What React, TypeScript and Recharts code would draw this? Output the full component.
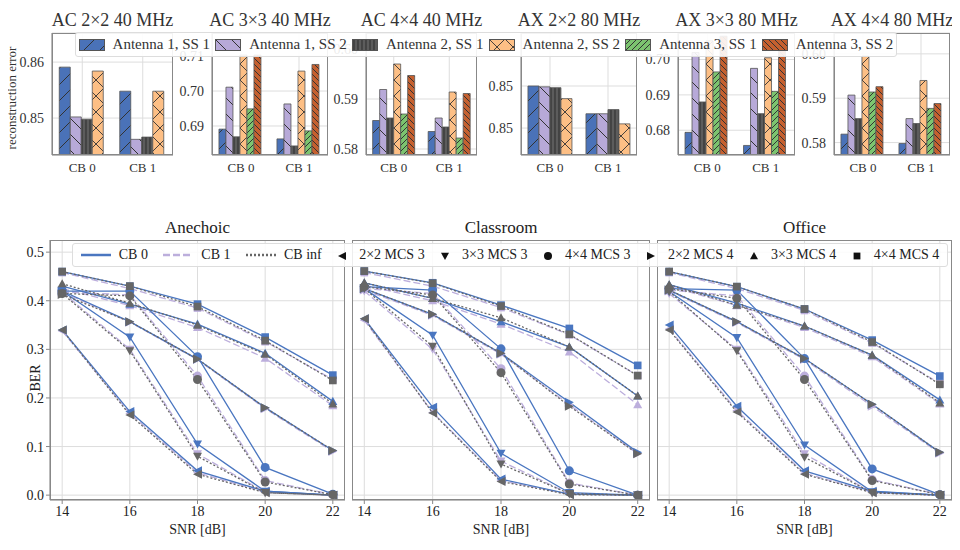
import React from 'react';
import { BarChart, Bar, XAxis, YAxis, CartesianGrid, LineChart, Line } from 'recharts';

const FONT = '"Liberation Serif", "DejaVu Serif", serif';
const CBS = ['CB 0', 'CB 1'];
const SERIES = ['Antenna 1, SS 1', 'Antenna 1, SS 2', 'Antenna 2, SS 1', 'Antenna 2, SS 2', 'Antenna 3, SS 1', 'Antenna 3, SS 2'];
const BAR_COLORS = ['#4a72b8', '#b7a9d8', '#5c5c5c', '#fdbf85', '#7cc46f', '#c5602f'];

// per series: [CB 0, CB 1]
const AC22 = [[0.8591, 0.8548], [0.8502, 0.8462], [0.8498, 0.8466], [0.8584, 0.8548]];
const AC33 = [[0.6891, 0.6863], [0.7011, 0.6963], [0.6869, 0.6843], [0.7103, 0.7057], [0.6949, 0.6886], [0.7103, 0.7076]];
const AC44 = [[0.5857, 0.5835], [0.5919, 0.5862], [0.5862, 0.5844], [0.597, 0.5914], [0.587, 0.5822], [0.5947, 0.5911]];
const AX22 = [[0.85, 0.8467], [0.8499, 0.8467], [0.8498, 0.8472], [0.8485, 0.8455]];
const AX33 = [[0.6794, 0.6757], [0.702, 0.6975], [0.688, 0.6847], [0.7053, 0.7005], [0.6965, 0.691], [0.7066, 0.7045]];
const AX44 = [[0.5819, 0.5798], [0.5907, 0.5854], [0.5854, 0.5843], [0.5995, 0.594], [0.5914, 0.5877], [0.5926, 0.5888]];

const PANELS = [
  { title: 'AC 2×2 40 MHz', vals: AC22, domain: [0.8434, 0.8652], ticks: [0.85, 0.86], left: 52, right: 173 },
  { title: 'AC 3×3 40 MHz', vals: AC33, domain: [0.6817, 0.7166], ticks: [0.69, 0.7, 0.71], left: 212, right: 328 },
  { title: 'AC 4×4 40 MHz', vals: AC44, domain: [0.5788, 0.6032], ticks: [0.58, 0.59, 0.6], left: 366, right: 477 },
  { title: 'AX 2×2 80 MHz', vals: AX22, domain: [0.8418, 0.8563], ticks: [0.845, 0.85, 0.855], left: 521, right: 637 },
  { title: 'AX 3×3 80 MHz', vals: AX33, domain: [0.673, 0.7075], ticks: [0.68, 0.69, 0.7], left: 678, right: 795 },
  { title: 'AX 4×4 80 MHz', vals: AX44, domain: [0.5772, 0.6047], ticks: [0.58, 0.59, 0.6], left: 834, right: 950 },
];

const SNR = [14, 16, 18, 20, 22];
// per configuration: [CB 0, CB 1, CB inf]
const ANE = {
  m22_3: [[0.34, 0.172, 0.05, 0.008, 0.0], [0.338, 0.168, 0.046, 0.006, 0.0], [0.34, 0.165, 0.043, 0.005, 0.0]],
  m33_3: [[0.42, 0.325, 0.105, 0.008, 0.0], [0.418, 0.3, 0.085, 0.006, 0.0], [0.415, 0.297, 0.08, 0.005, 0.0]],
  m44_3: [[0.42, 0.42, 0.285, 0.057, 0.002], [0.418, 0.412, 0.245, 0.03, 0.001], [0.415, 0.41, 0.238, 0.027, 0.001]],
  m22_4: [[0.42, 0.357, 0.28, 0.18, 0.092], [0.418, 0.356, 0.279, 0.178, 0.09], [0.413, 0.357, 0.28, 0.18, 0.092]],
  m33_4: [[0.43, 0.393, 0.352, 0.292, 0.193], [0.425, 0.39, 0.345, 0.282, 0.184], [0.435, 0.395, 0.35, 0.29, 0.188]],
  m44_4: [[0.46, 0.43, 0.393, 0.325, 0.247], [0.458, 0.425, 0.385, 0.316, 0.238], [0.46, 0.43, 0.388, 0.318, 0.236]],
};
const CLS = {
  m22_3: [[0.363, 0.181, 0.033, 0.002, 0.0], [0.36, 0.17, 0.03, 0.002, 0.0], [0.363, 0.169, 0.028, 0.001, 0.0]],
  m33_3: [[0.425, 0.329, 0.086, 0.005, 0.0], [0.42, 0.3, 0.07, 0.003, 0.0], [0.425, 0.306, 0.064, 0.003, 0.0]],
  m44_3: [[0.429, 0.422, 0.301, 0.05, 0.0], [0.425, 0.415, 0.26, 0.025, 0.0], [0.429, 0.412, 0.252, 0.023, 0.0]],
  m22_4: [[0.425, 0.372, 0.292, 0.191, 0.088], [0.422, 0.37, 0.29, 0.186, 0.085], [0.425, 0.372, 0.292, 0.183, 0.085]],
  m33_4: [[0.437, 0.405, 0.357, 0.305, 0.204], [0.432, 0.4, 0.352, 0.295, 0.186], [0.437, 0.405, 0.365, 0.305, 0.204]],
  m44_4: [[0.461, 0.437, 0.391, 0.343, 0.267], [0.458, 0.43, 0.386, 0.33, 0.246], [0.461, 0.436, 0.389, 0.331, 0.246]],
};
const OFF = {
  m22_3: [[0.35, 0.183, 0.05, 0.008, 0.0], [0.342, 0.174, 0.045, 0.006, 0.0], [0.34, 0.171, 0.043, 0.005, 0.0]],
  m33_3: [[0.419, 0.324, 0.103, 0.007, 0.0], [0.415, 0.3, 0.085, 0.005, 0.0], [0.419, 0.297, 0.078, 0.005, 0.0]],
  m44_3: [[0.425, 0.422, 0.281, 0.054, 0.001], [0.422, 0.41, 0.245, 0.032, 0.001], [0.425, 0.405, 0.238, 0.03, 0.001]],
  m22_4: [[0.422, 0.357, 0.281, 0.187, 0.088], [0.42, 0.355, 0.279, 0.183, 0.086], [0.422, 0.357, 0.281, 0.187, 0.088]],
  m33_4: [[0.433, 0.395, 0.348, 0.288, 0.196], [0.43, 0.39, 0.345, 0.285, 0.188], [0.433, 0.391, 0.348, 0.288, 0.19]],
  m44_4: [[0.46, 0.429, 0.383, 0.319, 0.245], [0.458, 0.425, 0.38, 0.313, 0.23], [0.46, 0.429, 0.383, 0.315, 0.228]],
};
const ENVS = [
  { title: 'Anechoic', vals: ANE, left: 50, right: 345, axis: true },
  { title: 'Classroom', vals: CLS, left: 352, right: 650, axis: false },
  { title: 'Office', vals: OFF, left: 657, right: 952, axis: false },
];
const CONFIGS = [
  { key: 'm22_3', label: '2×2 MCS 3', shape: 'left' },
  { key: 'm33_3', label: '3×3 MCS 3', shape: 'down' },
  { key: 'm44_3', label: '4×4 MCS 3', shape: 'circle' },
  { key: 'm22_4', label: '2×2 MCS 4', shape: 'right' },
  { key: 'm33_4', label: '3×3 MCS 4', shape: 'up' },
  { key: 'm44_4', label: '4×4 MCS 4', shape: 'square' },
];
const CB_STYLES = [
  { name: 'CB 0', color: '#4a76c0', dash: undefined },
  { name: 'CB 1', color: '#bcaedc', dash: '7 3' },
  { name: 'CB inf', color: '#666666', dash: '2 2' },
];
const DRAW_ORDER = [1, 0, 2];

function markerPath(shape: string, x: number, y: number, r: number) {
  switch (shape) {
    case 'left': return `M${x - r},${y} L${x + r},${y - r} L${x + r},${y + r} Z`;
    case 'right': return `M${x + r},${y} L${x - r},${y - r} L${x - r},${y + r} Z`;
    case 'up': return `M${x},${y - r} L${x + r},${y + r * 0.8} L${x - r},${y + r * 0.8} Z`;
    case 'down': return `M${x},${y + r} L${x + r},${y - r * 0.8} L${x - r},${y - r * 0.8} Z`;
    case 'square': return `M${x - r * 0.85},${y - r * 0.85} h${r * 1.7} v${r * 1.7} h${-r * 1.7} Z`;
    default: return `M${x - r},${y} a${r},${r} 0 1,0 ${2 * r},0 a${r},${r} 0 1,0 ${-2 * r},0`;
  }
}

function Marker({ shape, color, size = 5 }: { shape: string; color: string; size?: number }) {
  return (
    <svg width={size * 2 + 2} height={size * 2 + 2} style={{ verticalAlign: 'middle' }}>
      <path d={markerPath(shape, size + 1, size + 1, size)} fill={color} />
    </svg>
  );
}

const PATTERNS = [
  { d: 'M0,16 L16,0', w: 16, sw: 1 },
  { d: 'M0,0 L16,16', w: 16, sw: 1 },
  { d: 'M2,0 V8 M6,0 V8', w: 8, sw: 1.2 },
  { d: 'M0,0 L16,16 M0,16 L16,0', w: 16, sw: 0.9 },
  { d: 'M0,6 L6,0 M-1,1 L1,-1 M5,7 L7,5', w: 6, sw: 1 },
  { d: 'M0,0 L6,6 M-1,5 L1,7 M5,-1 L7,1', w: 6, sw: 1 },
];

function PatternDefs() {
  return (
    <svg width={0} height={0} style={{ position: 'absolute' }}>
      <defs>
        {PATTERNS.map((p, i) => (
          <pattern key={i} id={`hatch${i}`} patternUnits="userSpaceOnUse" width={p.w} height={p.w}>
            <rect width={p.w} height={p.w} fill={BAR_COLORS[i]} />
            <path d={p.d} stroke="#333" strokeWidth={p.sw} />
          </pattern>
        ))}
      </defs>
    </svg>
  );
}

const fmt2 = (v: number) => (Math.round(v * 100) / 100).toFixed(2);

function BarPanel({ panel, first }: { panel: (typeof PANELS)[number]; first: boolean }) {
  const data = CBS.map((cb, ci) => {
    const row: Record<string, number | string> = { cb };
    panel.vals.forEach((s, si) => { row[`s${si}`] = s[ci]; });
    return row;
  });
  const axisW = 44;
  const plotW = panel.right - panel.left;
  return (
    <div style={{ position: 'absolute', left: panel.left - 8 - axisW, top: 0 }}>
      <div style={{ position: 'absolute', left: axisW - 20, width: plotW + 40, top: 2, textAlign: 'center', fontSize: 18, color: '#333', whiteSpace: 'nowrap' }}>
        {panel.title}
      </div>
      <BarChart width={axisW + plotW} height={172} data={data} margin={{ top: 25, right: 0, bottom: 0, left: 0 }} barCategoryGap="12%" barGap={0}>
        <CartesianGrid stroke="#ddd" />
        <XAxis dataKey="cb" height={25} tick={{ fontSize: 13, fill: '#333', fontFamily: FONT }} tickLine={false} stroke="#888" />
        <YAxis width={axisW} domain={panel.domain} ticks={panel.ticks} allowDataOverflow tickFormatter={fmt2} tick={{ fontSize: 14, fill: '#333', fontFamily: FONT }} tickLine={false} stroke="#888" />
        {panel.vals.map((_, si) => (
          <Bar key={si} dataKey={`s${si}`} fill={`url(#hatch${si})`} stroke="#555" strokeWidth={0.8} isAnimationActive={false} />
        ))}
      </BarChart>
      <div style={{ position: 'absolute', left: axisW, top: 25, width: plotW, height: 122, border: '1px solid #888', boxSizing: 'border-box', pointerEvents: 'none' }} />
      {first && (
        <div style={{ position: 'absolute', left: -4, top: 90, transform: 'rotate(-90deg)', transformOrigin: 'left top', fontSize: 13, color: '#333', whiteSpace: 'nowrap' }}>
          <div style={{ transform: 'translateX(-50%)' }}>reconstruction error</div>
        </div>
      )}
    </div>
  );
}

function LinePanel({ env }: { env: (typeof ENVS)[number] }) {
  const data = SNR.map((snr, i) => {
    const row: Record<string, number> = { snr };
    CONFIGS.forEach((c) => {
      (env.vals as Record<string, number[][]>)[c.key].forEach((arr, k) => { row[`${c.key}_${k}`] = arr[i]; });
    });
    return row;
  });
  const axisW = env.axis ? 40 : 0;
  const plotW = env.right - env.left;
  return (
    <div style={{ position: 'absolute', left: env.left - 8 - axisW, top: 232 }}>
      <div style={{ position: 'absolute', left: axisW, width: plotW, top: -22, textAlign: 'center', fontSize: 17, color: '#222' }}>{env.title}</div>
      <LineChart width={axisW + plotW} height={282} data={data} margin={{ top: 0, right: 0, bottom: 0, left: 0 }}>
        <CartesianGrid stroke="#ddd" />
        <XAxis dataKey="snr" type="number" domain={[13.64, 22.36]} ticks={SNR} height={22} stroke="#888" tick={{ fontSize: 14, fill: '#222', fontFamily: FONT }} tickSize={4} />
        <YAxis width={axisW} hide={!env.axis} domain={[-0.01, 0.525]} ticks={[0, 0.1, 0.2, 0.3, 0.4, 0.5]} allowDataOverflow tickFormatter={(v: number) => v.toFixed(1)} stroke="#888" tick={{ fontSize: 14, fill: '#222', fontFamily: FONT }} tickSize={4} />
        {DRAW_ORDER.flatMap((k) => CONFIGS.map((c) => {
          const st = CB_STYLES[k];
          return (
            <Line
              key={`${c.key}_${k}`}
              dataKey={`${c.key}_${k}`}
              stroke={st.color}
              strokeDasharray={st.dash}
              strokeWidth={1.3}
              isAnimationActive={false}
              dot={(p: any) => <path key={`${c.key}_${k}_${p.index}`} d={markerPath(c.shape, p.cx, p.cy, 4.5)} fill={st.color} />}
            />
          );
        }))}
      </LineChart>
      <div style={{ position: 'absolute', left: axisW, top: 0, width: plotW, height: 260, border: '1px solid #888', boxSizing: 'border-box', pointerEvents: 'none' }} />
    </div>
  );
}

export default function App() {
  return (
    <div style={{ position: 'relative', width: 944, height: 534, fontFamily: FONT, background: '#fff' }}>
      <PatternDefs />
      {PANELS.map((p, i) => <BarPanel key={p.title} panel={p} first={i === 0} />)}
      <div style={{ position: 'absolute', left: 67, top: 24, width: 820, height: 23, background: 'rgba(255,255,255,0.9)', border: '1px solid #ddd', borderRadius: 3, display: 'flex', alignItems: 'center', justifyContent: 'space-around', fontSize: 15, color: '#333' }}>
        {SERIES.map((s, i) => (
          <span key={s} style={{ display: 'flex', alignItems: 'center', whiteSpace: 'nowrap' }}>
            <svg width={26} height={12} style={{ marginRight: 8 }}><rect x={0.5} y={0.5} width={25} height={11} fill={`url(#hatch${i})`} stroke="#555" /></svg>
            {s}
          </span>
        ))}
      </div>
      <div style={{ position: 'absolute', left: 20, top: 370, transform: 'rotate(-90deg)', transformOrigin: 'left top', fontSize: 14, color: '#222' }}>
        <div style={{ transform: 'translateX(-50%)' }}>BER</div>
      </div>
      {ENVS.map((e) => <LinePanel key={e.title} env={e} />)}
      {ENVS.map((e) => (
        <div key={e.title + 'x'} style={{ position: 'absolute', left: e.left - 8, width: e.right - e.left, top: 514, lineHeight: '16px', textAlign: 'center', fontSize: 14, color: '#222' }}>SNR [dB]</div>
      ))}
      <div style={{ position: 'absolute', left: 64, top: 235, width: 874, height: 22, background: 'rgba(255,255,255,0.85)', border: '1px solid #ddd', borderRadius: 3, display: 'flex', alignItems: 'center', justifyContent: 'space-around', fontSize: 14, color: '#222' }}>
        {CB_STYLES.map((s) => (
          <span key={s.name} style={{ display: 'flex', alignItems: 'center', whiteSpace: 'nowrap' }}>
            <svg width={30} height={8} style={{ marginRight: 8 }}><line x1={0} y1={4} x2={30} y2={4} stroke={s.color} strokeWidth={2.5} strokeDasharray={s.dash} /></svg>
            {s.name}
          </span>
        ))}
        {CONFIGS.map((c) => (
          <span key={c.key} style={{ display: 'flex', alignItems: 'center', whiteSpace: 'nowrap' }}>
            <span style={{ marginRight: 12 }}><Marker shape={c.shape} color="#111" size={4} /></span>
            {c.label}
          </span>
        ))}
      </div>
    </div>
  );
}
